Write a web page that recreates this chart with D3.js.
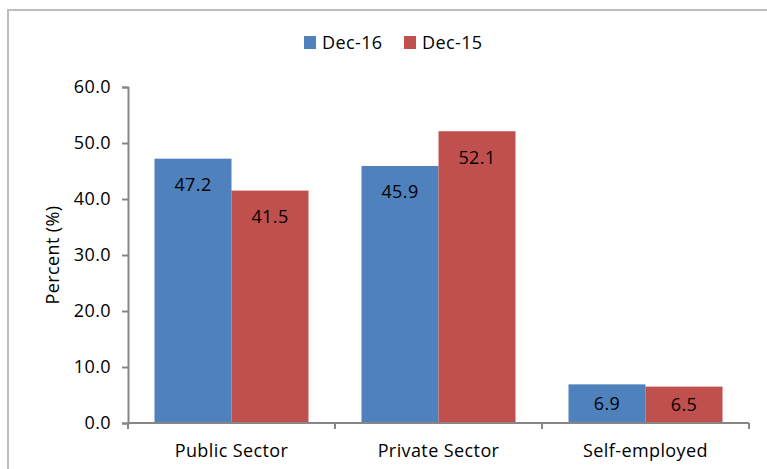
<!DOCTYPE html>
<html>
<head>
<meta charset="utf-8">
<script src="https://cdn.jsdelivr.net/npm/d3@7"></script>
<style>
  body { margin: 0; background: #fff; }
  text { font-family: "Open Sans", Lato, sans-serif; fill: #000; font-size: 18px; letter-spacing: 0.4px; }
</style>
</head>
<body>
<div id="chart"></div>
<script>
const categories = ["Public Sector", "Private Sector", "Self-employed"];
const seriesNames = ["Dec-16", "Dec-15"];
const dec16 = [47.2, 45.9, 6.9];
const dec15 = [41.5, 52.1, 6.5];
const yTicks = [0, 10, 20, 30, 40, 50, 60];
const colors = ["#4F81BD", "#C0504D"];

const width = 767, height = 469;
const margin = {top: 87, right: 18, bottom: 46, left: 128};

const svg = d3.select("#chart")
  .append("svg")
  .attr("width", width)
  .attr("height", height);

// outer chart frame (runs past right and bottom edge)
svg.append("rect")
  .attr("x", 8).attr("y", 10)
  .attr("width", 800).attr("height", 500)
  .attr("fill", "none")
  .attr("stroke", "#BDBDBD")
  .attr("stroke-width", 2);

const x = d3.scaleBand()
  .domain(categories)
  .range([margin.left, width - margin.right])
  .paddingInner(0.256)
  .paddingOuter(0.128);

const x1 = d3.scaleBand()
  .domain(seriesNames)
  .range([0, x.bandwidth()]);

const y = d3.scaleLinear()
  .domain([0, 60])
  .range([height - margin.bottom, margin.top]);

const rows = categories.map((c, i) => ({cat: c, vals: [dec16[i], dec15[i]]}));

const groups = svg.append("g")
  .selectAll("g")
  .data(rows)
  .join("g")
  .attr("transform", d => `translate(${x(d.cat)},0)`);

groups.selectAll("rect")
  .data(d => d.vals.map((v, j) => ({name: seriesNames[j], v, j})))
  .join("rect")
  .attr("x", d => x1(d.name))
  .attr("y", d => y(d.v))
  .attr("width", x1.bandwidth())
  .attr("height", d => y(0) - y(d.v))
  .attr("fill", d => colors[d.j]);

groups.selectAll("text")
  .data(d => d.vals.map((v, j) => ({name: seriesNames[j], v, j})))
  .join("text")
  .attr("x", d => x1(d.name) + x1.bandwidth() / 2)
  .attr("y", d => Math.min(y(d.v) + 26, (y(d.v) + y(0)) / 2))
  .attr("dy", "0.35em")
  .attr("text-anchor", "middle")
  .text(d => d.v.toFixed(1));

// y axis
const yAxis = svg.append("g")
  .attr("transform", `translate(${margin.left},0)`)
  .call(d3.axisLeft(y).tickValues(yTicks).tickFormat(d3.format(".1f")).tickSize(6).tickPadding(11));
yAxis.selectAll("text").style("font-size", "18px");

// x axis
const xAxis = svg.append("g")
  .attr("transform", `translate(0,${y(0)})`)
  .call(d3.axisBottom(x).tickSize(0).tickPadding(21));
xAxis.selectAll("text").style("font-size", "18px");
xAxis.selectAll(".tick line").remove();
// category boundary ticks
const xr = x.range();
const bounds = [xr[0]].concat(categories.map(c => x(c) + x.bandwidth() + x.step() * x.paddingInner() / 2));
bounds[bounds.length - 1] = xr[1];
xAxis.selectAll(".bound")
  .data(bounds)
  .join("line")
  .attr("class", "bound")
  .attr("x1", d => d).attr("x2", d => d)
  .attr("y1", 0).attr("y2", 6);

svg.selectAll(".domain, .tick line, .bound")
  .attr("stroke", "#868686")
  .attr("stroke-width", 2);
xAxis.select(".domain").attr("d", `M${xr[0]},0H${xr[1]}`);
svg.selectAll(".tick text").attr("font-family", null);

svg.append("text")
  .attr("transform", `translate(53,${(y(0) + y(60)) / 2}) rotate(-90)`)
  .attr("text-anchor", "middle")
  .attr("dy", "0.35em")
  .text("Percent (%)");

// legend
const legend = svg.append("g")
  .selectAll("g")
  .data(seriesNames)
  .join("g")
  .attr("transform", (d, i) => `translate(${304 + i * 100},36)`);
legend.append("rect")
  .attr("width", 12).attr("height", 13)
  .attr("fill", (d, i) => colors[i]);
legend.append("text")
  .attr("x", 18).attr("y", 7)
  .attr("dy", "0.35em")
  .text(d => d);
</script>
</body>
</html>
